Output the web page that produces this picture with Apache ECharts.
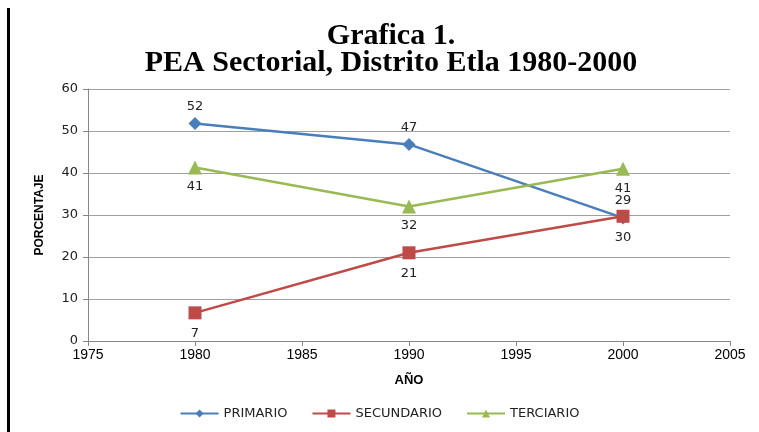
<!DOCTYPE html>
<html>
<head>
<meta charset="utf-8">
<script src="https://cdn.jsdelivr.net/npm/echarts@6/dist/echarts.min.js"></script>
<style>
  html, body { margin: 0; padding: 0; background: #fff; }
  #chart { width: 759px; height: 432px; }
</style>
</head>
<body>
<div id="chart"></div>
<script>
// datos
const years = [1980, 1990, 2000];
const primario = [51.8, 46.8, 29.3];
const secundario = [6.7, 21.0, 29.7];
const terciario = [41.3, 32.0, 41.0];
const seriesNames = ['PRIMARIO', 'SECUNDARIO', 'TERCIARIO'];

const chart = echarts.init(document.getElementById('chart'));

function pairs(vals) {
  return years.map((y, i) => [y, vals[i]]);
}

const labelFont = { fontFamily: 'DejaVu Sans', fontSize: 13, color: '#222' };

function makeSeries(name, vals, color, symbol, size, pos, dist) {
  return {
    name: name,
    type: 'line',
    data: pairs(vals),
    symbol: symbol,
    symbolSize: size,
    lineStyle: { color: color, width: 2.5 },
    itemStyle: { color: color },
    label: {
      show: true,
      position: pos,
      distance: dist,
      formatter: p => Math.round(p.value[1]),
      ...labelFont
    },
    emphasis: { disabled: true }
  };
}

chart.setOption({
  animation: false,
  title: {
    text: 'Grafica 1.\nPEA Sectorial, Distrito Etla 1980-2000',
    left: 386,
    top: 18,
    textAlign: 'center',
    textStyle: {
      fontFamily: 'Liberation Serif',
      fontWeight: 'bold',
      fontSize: 30,
      lineHeight: 27,
      color: '#000'
    }
  },
  legend: {
    bottom: 7,
    left: 'center',
    itemWidth: 38,
    itemHeight: 10,
    itemGap: 24,
    textStyle: { fontFamily: 'DejaVu Sans', fontSize: 13, color: '#222' },
    data: seriesNames
  },
  grid: { left: 88, right: 29, top: 89, bottom: 91 },
  xAxis: {
    type: 'value',
    min: 1975,
    max: 2005,
    interval: 5,
    name: 'AÑO',
    nameLocation: 'middle',
    nameGap: 33,
    nameTextStyle: { fontFamily: 'Liberation Sans', fontWeight: 'bold', fontSize: 13, color: '#000' },
    axisLine: { show: true, lineStyle: { color: '#868686' } },
    axisTick: { show: true, length: 5, lineStyle: { color: '#868686' } },
    splitLine: { show: false },
    axisLabel: {
      fontFamily: 'Liberation Sans', fontSize: 14, color: '#000', margin: 7,
      formatter: v => String(v)
    }
  },
  yAxis: {
    type: 'value',
    min: 0,
    max: 60,
    interval: 10,
    name: 'PORCENTAJE',
    nameLocation: 'middle',
    nameGap: 42,
    nameTextStyle: { fontFamily: 'Liberation Sans', fontWeight: 'bold', fontSize: 12, color: '#000' },
    axisLine: { show: true, lineStyle: { color: '#868686' } },
    axisTick: { show: true, length: 5, lineStyle: { color: '#868686' } },
    splitLine: { lineStyle: { color: '#a0a0a0' } },
    axisLabel: { fontFamily: 'DejaVu Sans', fontSize: 13, color: '#222', margin: 10 }
  },
  graphic: [{
    type: 'rect',
    shape: { x: 7, y: 8, width: 3, height: 424 },
    style: { fill: '#000' }
  }],
  series: [
    makeSeries(seriesNames[0], primario, '#4a7ebb', 'diamond', 13, 'top', 4),
    makeSeries(seriesNames[1], secundario, '#be4b48', 'rect', 13, 'bottom', 8),
    makeSeries(seriesNames[2], terciario, '#98b954', 'triangle', 14, 'bottom', 6)
  ]
});
</script>
</body>
</html>
